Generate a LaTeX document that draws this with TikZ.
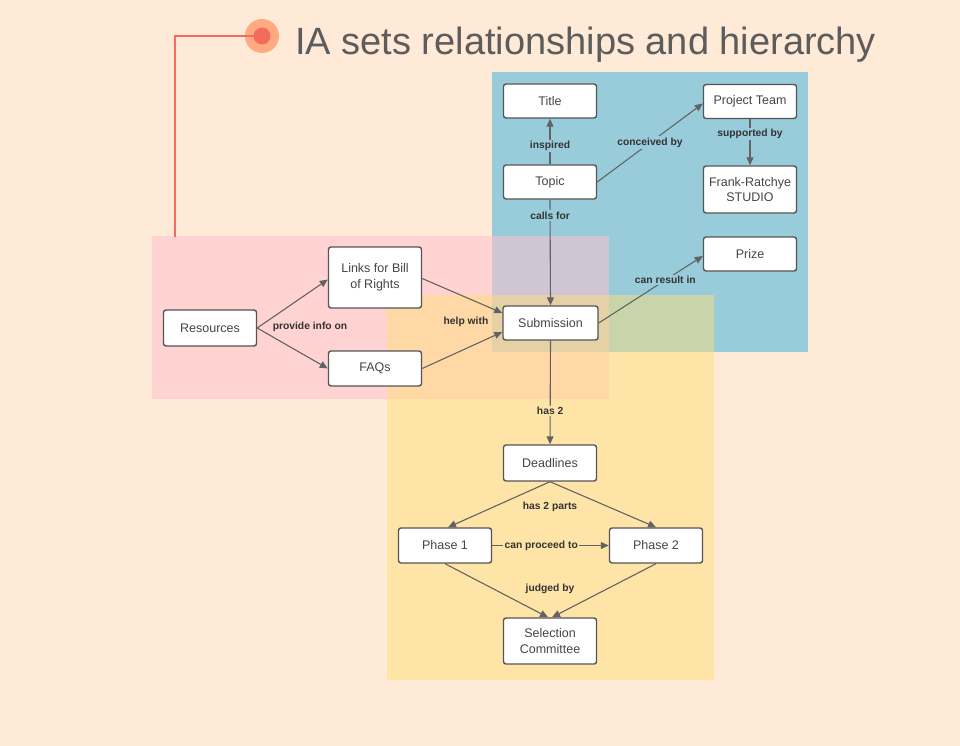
\documentclass[tikz,border=0pt]{standalone}
\usepackage{fontspec}
\setmainfont{Liberation Sans}
\usetikzlibrary{arrows.meta}
\definecolor{bg}{HTML}{FFE9D7}
\definecolor{blueR}{HTML}{99CCDB}
\definecolor{pinkR}{RGB}{255,192,205}
\definecolor{yellowR}{RGB}{255,223,116}
\definecolor{yellowL}{HTML}{FFE4A8}
\definecolor{redline}{HTML}{F26B5B}
\definecolor{halo}{HTML}{FFAA80}
\definecolor{boxline}{HTML}{555555}
\definecolor{txt}{HTML}{454545}
\definecolor{edgec}{HTML}{636363}
\definecolor{lbltxt}{HTML}{333333}
\definecolor{titletxt}{HTML}{5C5C5C}
\tikzset{
  box/.style={draw=boxline, line width=1.4pt, fill=white, rounded corners=2.5pt,
    minimum width=93pt, minimum height=34pt, align=center, text=txt,
    font=\fontsize{12.5}{15.5}\selectfont, inner sep=2pt},
  lbl/.style={font=\bfseries\fontsize{10.3}{12}\selectfont, text=lbltxt, inner sep=1.5pt},
  conn/.style={draw=edgec, line width=1.1pt, -{Triangle[length=8pt,width=7pt]}},
}
\begin{document}
\begin{tikzpicture}[x=1pt,y=-1pt]
\fill[bg] (0,0) rectangle (960,746);
\useasboundingbox (0,0) rectangle (960,746);
% regions
\fill[blueR] (492,72) rectangle (808,352);
\fill[pinkR, opacity=0.53] (152,236) rectangle (609,399);
\fill[yellowR, opacity=0.47] (387,295) rectangle (714,680);
% heading
\node[circle, fill=halo, minimum size=34pt, inner sep=0pt] (halo) at (262,36) {};
\coordinate (lineend) at (175,237);
\draw[redline, line width=2.2pt] (lineend) |- (halo.center);
\node[circle, fill=redline, minimum size=17pt, inner sep=0pt] (dot) at (262,36) {};
\node[anchor=base west, text=titletxt, font=\fontsize{38}{43}\selectfont, inner sep=0pt] (head) at (295,55) {IA sets relationships and hierarchy};
% nodes
\node[box] (title) at (550,101) {Title};
\node[box] (team) at (750,101.5) {Project Team};
\node[box] (topic) at (550,182) {Topic};
\node[box, minimum height=47pt] (frank) at (750,189.5) {Frank-Ratchye\\STUDIO};
\node[box] (prize) at (750,254) {Prize};
\node[box, minimum height=61pt] (links) at (375,277.5) {Links for Bill\\of Rights};
\node[box, minimum height=36pt] (res) at (210,328) {Resources};
\node[box, minimum width=95pt] (sub) at (550.5,323) {Submission};
\node[box, minimum height=35pt] (faqs) at (375,368.5) {FAQs};
\node[box, minimum height=36pt] (dead) at (550,463) {Deadlines};
\node[box, minimum height=35pt] (p1) at (445,545.5) {Phase 1};
\node[box, minimum height=35pt] (p2) at (656,545.5) {Phase 2};
\node[box, minimum height=46pt] (sel) at (550,641) {Selection\\Committee};
% connectors
\draw[conn] (topic.north) -- node[lbl, fill=blueR, pos=0.4] (l1) {inspired} (title.south);
\draw[conn] (topic.south) -- node[lbl, fill=blueR, pos=0.15] (l2) {calls for} (sub.north);
\draw[conn] (topic.east) -- node[lbl, fill=blueR, pos=0.5] (l3) {conceived by} ([yshift=-2pt]team.west);
\draw[conn] (team.south) -- node[lbl, fill=blueR, pos=0.32] (l4) {supported by} (frank.north);
\draw[conn] (sub.east) -- node[lbl, fill=blueR, pos=0.64] (l5) {can result in} ([yshift=-2pt]prize.west);
\draw[conn] (sub.south) -- node[lbl, fill=yellowL, pos=0.68] (l6) {has 2} (dead.north);
\draw[conn] (res.east) -- ([yshift=-2pt]links.west);
\draw[conn] (res.east) -- (faqs.west);
\node[lbl] (l7) at (310,327) {provide info on};
\draw[conn] ([yshift=-1pt]links.east) -- ([yshift=10pt]sub.west);
\draw[conn] (faqs.east) -- ([yshift=-9pt]sub.west);
\node[lbl] (l8) at (466,322) {help with};
\draw[conn] (dead.south) -- ([xshift=3pt]p1.north);
\draw[conn] (dead.south) -- (p2.north);
\node[lbl] (l9) at (550,507) {has 2 parts};
\draw[conn] (p1.east) -- node[lbl, fill=yellowL, pos=0.42] (l10) {can proceed to} (p2.west);
\draw[conn] (p1.south) -- ([xshift=-2pt]sel.north);
\draw[conn] (p2.south) -- ([xshift=2pt]sel.north);
\node[lbl] (l11) at (550,589) {judged by};
\end{tikzpicture}
\end{document}
